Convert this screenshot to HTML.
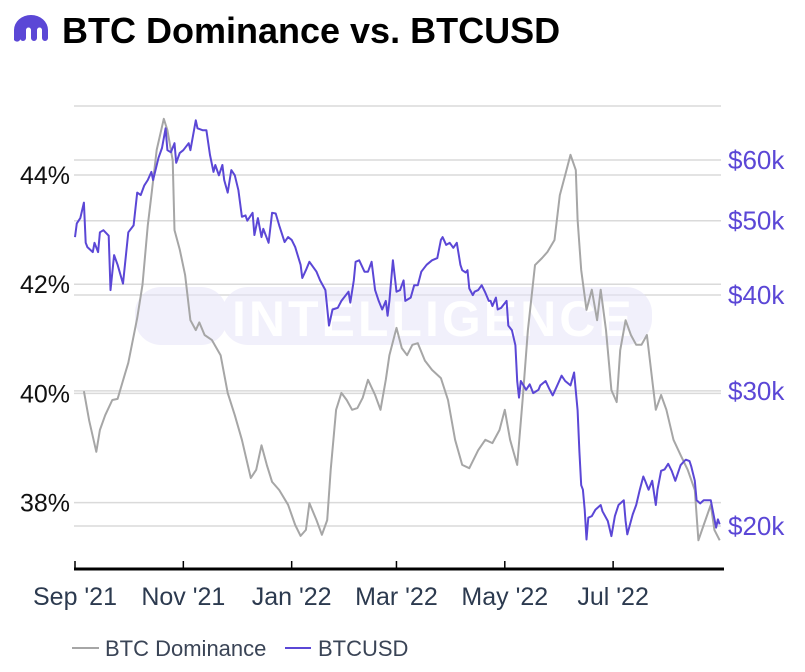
<!DOCTYPE html>
<html><head><meta charset="utf-8"><style>
body{margin:0;background:#fff;width:805px;height:667px;overflow:hidden;font-family:"Liberation Sans",sans-serif}
</style></head><body>
<svg width="805" height="667" xmlns="http://www.w3.org/2000/svg">
<g>
<path d="M14,40 L14,30 A17,15 0 0 1 48,30 L48,38 A3,3 0 0 1 42,38 L42,30 A2.5,2.5 0 0 0 37,30 L37,38 A3,3 0 0 1 31,38 L31,30 A2.5,2.5 0 0 0 26,30 L26,38 A3,3 0 0 1 20,38 L20,36 A3,3 0 0 1 14,40Z" fill="#5b47d6"/>
<text x="62" y="43" font-size="36" font-weight="bold" fill="#000">BTC Dominance vs. BTCUSD</text>
</g>
<g id="grid"></g>
<g opacity="0.55">
<rect x="135" y="287" width="92" height="58" rx="26" fill="#e6e4f8"/>
<rect x="222" y="287" width="430" height="58" rx="26" fill="#e6e4f8"/>
<text x="232" y="336" font-size="50" font-weight="bold" fill="#fff" letter-spacing="3">INTELLIGENCE</text>
</g>
<g id="series"></g>
<g id="axes"></g>
<g font-size="22" fill="#3a4456">
<line x1="72" y1="648" x2="99" y2="648" stroke="#a6a6a6" stroke-width="2"/>
<text x="105" y="656">BTC Dominance</text>
<line x1="285" y1="648" x2="311" y2="648" stroke="#5b47d6" stroke-width="2"/>
<text x="318" y="656">BTCUSD</text>
</g>
</svg>
<script>
const domDays=[5,8,12,14,17,21,24,28,30,35,38,41,43,46,50,52,55,56,59,62,65,68,70,73,77,82,86,90,94,99,102,105,108,111,115,120,124,127,130,132,136,139,142,144,147,150,153,156,159,162,165,169,172,175,177,181,184,187,190,193,197,201,206,210,214,218,222,227,231,235,239,242,245,249,252,255,259,263,266,270,273,276,279,282,283,285,288,291,294,296,299,302,305,307,310,313,316,319,322,325,327,330,333,337,341,345,349,351,354,358,360,363];
const domValues=[40.04,39.5,38.93,39.33,39.6,39.88,39.9,40.34,40.56,41.38,41.99,43.08,43.63,44.46,45.03,44.82,44.27,42.99,42.63,42.17,41.34,41.16,41.3,41.07,40.98,40.7,40.01,39.6,39.15,38.45,38.6,39.05,38.69,38.38,38.23,37.96,37.59,37.39,37.5,37.99,37.68,37.41,37.68,38.6,39.7,40.01,39.88,39.7,39.73,39.92,40.25,39.97,39.7,40.25,40.7,41.2,40.83,40.7,40.89,40.92,40.6,40.43,40.28,39.88,39.15,38.69,38.63,38.96,39.15,39.09,39.33,39.7,39.15,38.69,39.88,41.16,42.35,42.48,42.59,42.81,43.63,44.0,44.37,44.09,43.18,42.26,41.53,41.9,41.34,41.9,41.16,40.06,39.84,40.79,41.34,41.07,40.89,40.89,41.07,40.25,39.7,39.97,39.7,39.15,38.87,38.6,38.23,37.31,37.59,37.96,37.5,37.31];
const btcDays=[0,1,3,5,6,7,10,11,13,14,16,19,20,22,24,27,30,33,35,37,39,41,43,44,47,49,51,52,54,56,57,59,61,64,65,68,69,72,74,76,78,79,81,83,84,86,88,90,92,94,96,97,100,101,103,105,106,109,111,113,115,118,120,122,124,127,128,130,132,136,138,141,143,145,148,150,154,155,157,158,160,163,165,167,169,171,173,175,176,177,179,181,183,185,186,189,191,193,195,198,201,204,206,207,209,211,213,215,217,218,220,221,222,224,225,227,229,231,233,234,235,237,238,240,243,244,246,248,249,250,251,254,256,258,261,262,265,267,269,271,274,276,279,281,283,284,285,286,287,288,289,291,293,296,297,300,302,304,306,309,310,311,314,316,318,320,321,323,325,327,328,330,332,334,336,338,341,343,344,346,347,349,350,352,354,355,358,359,361,362,363];
const btcValues=[47.6,49.6,50.4,52.8,46.8,46.2,45.5,46.8,45.5,48.3,48.6,47.8,40.6,45.1,43.8,41.4,48.3,49.3,54.4,54.0,55.6,56.5,57.9,56.5,60.4,62.2,66.0,61.8,61.4,63.1,59.5,61.3,61.8,63.1,61.8,67.6,66.0,65.6,65.6,60.9,57.9,59.1,57.3,59.1,56.5,54.4,58.2,57.3,54.8,50.6,50.8,50.0,51.2,47.9,50.4,47.6,48.8,46.8,51.2,51.1,49.3,46.9,47.6,47.2,46.2,43.8,42.1,43.1,44.2,42.9,41.8,40.6,36.5,38.3,38.5,39.3,40.4,39.1,41.8,44.2,44.4,42.9,42.9,44.2,40.6,39.3,38.3,39.3,37.6,39.3,44.4,40.4,40.6,41.8,39.3,39.7,41.2,41.2,42.9,43.8,44.4,44.7,47.2,47.6,46.5,46.8,46.1,46.8,43.8,43.1,42.8,43.1,40.8,40.0,40.4,40.6,41.2,40.3,39.3,39.3,38.7,39.7,38.3,38.5,39.3,36.5,36.0,34.4,30.9,29.4,30.9,30.1,30.6,29.8,30.1,30.5,30.9,30.2,29.6,30.3,31.4,30.9,30.5,31.7,28.3,25.0,22.6,22.3,21.0,19.2,20.5,20.6,21.0,21.3,20.9,20.3,19.4,20.6,21.3,21.6,20.3,19.5,20.7,21.3,22.3,23.2,22.9,22.3,22.9,21.3,22.3,23.6,23.7,24.1,23.6,22.9,24.0,24.3,24.4,24.3,23.9,22.9,21.6,21.4,21.6,21.6,21.6,21.0,19.9,20.4,20.1];
const leftTicks=[44,42,40,38];
const rightTicks=[60,50,40,30,20];
const monthLabels=["Sep '21","Nov '21","Jan '22","Mar '22","May '22","Jul '22"];
const monthDays=[0,61,122,181,242,303];

const NS="http://www.w3.org/2000/svg";
const X0=75,PX_DAY=1.776;
const xs=d=>X0+d*PX_DAY;
const yL=v=>175+(44-v)*54.6;
const yR=v=>160+(Math.log10(60)-Math.log10(v))*767;
function mk(tag,attrs,parent){const e=document.createElementNS(NS,tag);for(const k in attrs)e.setAttribute(k,attrs[k]);parent.appendChild(e);return e;}
const grid=document.getElementById('grid'),series=document.getElementById('series'),axes=document.getElementById('axes');
[106].concat(leftTicks.map(yL),rightTicks.map(yR)).forEach(y=>{
  const l=mk('line',{x1:74,x2:721,y1:y,y2:y,stroke:'#dadada','stroke-width':1.5},grid);
  
  
});
leftTicks.forEach(v=>{
  const t=mk('text',{x:70,y:yL(v)+9,'text-anchor':'end','font-size':25,fill:'#111'},axes);
  t.textContent=v+'%';
  
  
});
rightTicks.forEach(v=>{
  const t=mk('text',{x:728,y:yR(v)+9,'font-size':26,fill:'#5b47d6'},axes);
  t.textContent='$'+v+'k';
  
  
});
const ax=mk('line',{x1:74,x2:724,y1:569,y2:569,stroke:'#000','stroke-width':3},axes);


monthDays.forEach((d,i)=>{
  const tk=mk('line',{x1:xs(d),x2:xs(d),y1:561,y2:569,stroke:'#000','stroke-width':1.5},axes);
  
  
  const t=mk('text',{x:xs(d),y:605,'text-anchor':'middle','font-size':25,fill:'#2c3a4f'},axes);
  t.textContent=monthLabels[i];
  
  
});
const dpts=domDays.map((d,i)=>xs(d).toFixed(1)+','+yL(domValues[i]).toFixed(1)).join(' ');
const dl=mk('polyline',{points:dpts,fill:'none',stroke:'#a6a6a6','stroke-width':2,'stroke-linejoin':'round'},series);


const bpts=btcDays.map((d,i)=>xs(d).toFixed(1)+','+yR(btcValues[i]).toFixed(1)).join(' ');
const bl=mk('polyline',{points:bpts,fill:'none',stroke:'#5b47d6','stroke-width':2,'stroke-linejoin':'round'},series);


</script>
</body></html>
